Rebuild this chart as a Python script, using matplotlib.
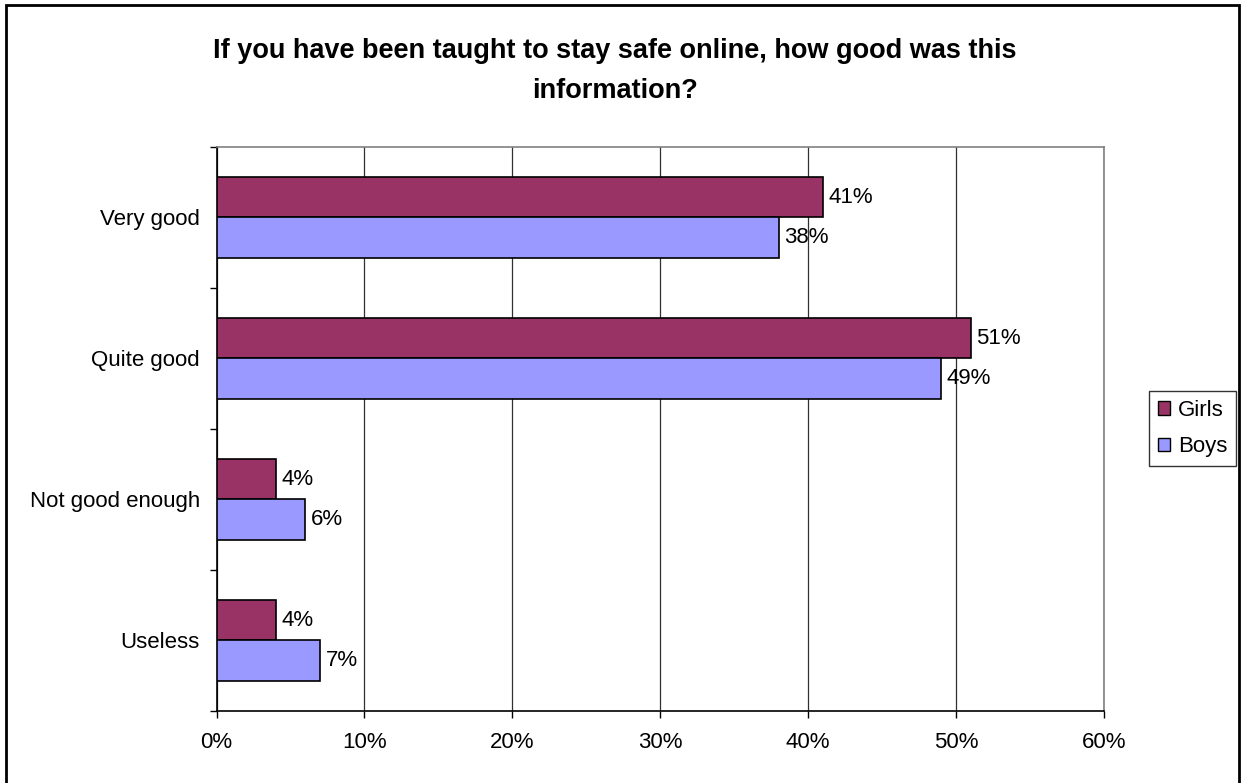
import numpy as np
import matplotlib.pyplot as plt
from matplotlib.patches import Rectangle, Patch

plt.rcParams['font.family'] = ['Liberation Sans', 'DejaVu Sans']

categories = ['Very good', 'Quite good', 'Not good enough', 'Useless']
girls = [41, 51, 4, 4]
boys = [38, 49, 6, 7]
xticks = [0, 10, 20, 30, 40, 50, 60]

girls_color = '#993366'
boys_color = '#9999FF'
fs = 16

W, H = 1243, 783
fig = plt.figure(figsize=(W / 100, H / 100), dpi=100)
ax = fig.add_axes([216.5 / W, 1 - 711 / H, (1104 - 216.5) / W, (711 - 146.7) / H])

y = np.arange(len(categories))
h = 0.286
ax.barh(y - h / 2, girls, height=h, color=girls_color, edgecolor='black', linewidth=1.2, zorder=3)
ax.barh(y + h / 2, boys, height=h, color=boys_color, edgecolor='black', linewidth=1.2, zorder=3)

for i in range(len(categories)):
    ax.annotate(f'{girls[i]}%', (girls[i], y[i] - h / 2), xytext=(4, 0), textcoords='offset points',
                va='center', ha='left', fontsize=fs)
    ax.annotate(f'{boys[i]}%', (boys[i], y[i] + h / 2), xytext=(4, 0), textcoords='offset points',
                va='center', ha='left', fontsize=fs)

ax.set_xlim(0, 60)
ax.set_ylim(3.5, -0.5)
ax.set_xticks(xticks)
ax.set_xticklabels([f'{v}%' for v in xticks], fontsize=fs)
ax.set_yticks(y)
ax.set_yticklabels(categories, fontsize=fs)
ax.set_yticks(np.arange(-0.5, 4.0, 1.0), minor=True)
ax.tick_params(axis='y', which='major', length=0, pad=12)
ax.tick_params(axis='y', which='minor', length=5, width=1, direction='out')
ax.tick_params(axis='x', length=5, width=1, direction='out', pad=10)

ax.grid(axis='x', color='#303030', linewidth=0.9, zorder=0)
ax.spines['left'].set_color('black')
ax.spines['bottom'].set_color('black')
ax.spines['top'].set_color('#808080')
ax.spines['right'].set_color('#808080')
for s in ax.spines.values():
    s.set_linewidth(1.2)

title = 'If you have been taught to stay safe online, how good was this\ninformation?'
fig.text(615 / W, 1 - 71 / H, title, ha='center', va='center', fontsize=19.5,
         fontweight='bold', linespacing=1.75)

handles = [Patch(facecolor=girls_color, edgecolor='black', label='Girls'),
           Patch(facecolor=boys_color, edgecolor='black', label='Boys')]
leg = fig.legend(handles=handles, loc='upper left', bbox_to_anchor=(1149 / W, 1 - 391 / H),
                 fontsize=fs, frameon=True, fancybox=False, handlelength=0.55, handleheight=0.55,
                 handletextpad=0.35, borderpad=0.4, labelspacing=0.7, borderaxespad=0)
leg.get_frame().set_edgecolor('black')
leg.get_frame().set_linewidth(1)

fig.patches.append(Rectangle((6 / W, -0.02), (1239 - 6) / W, 1 - 5 / H + 0.02, transform=fig.transFigure,
                             fill=False, edgecolor='black', linewidth=2))

fig.savefig('out.png', dpi=100)
